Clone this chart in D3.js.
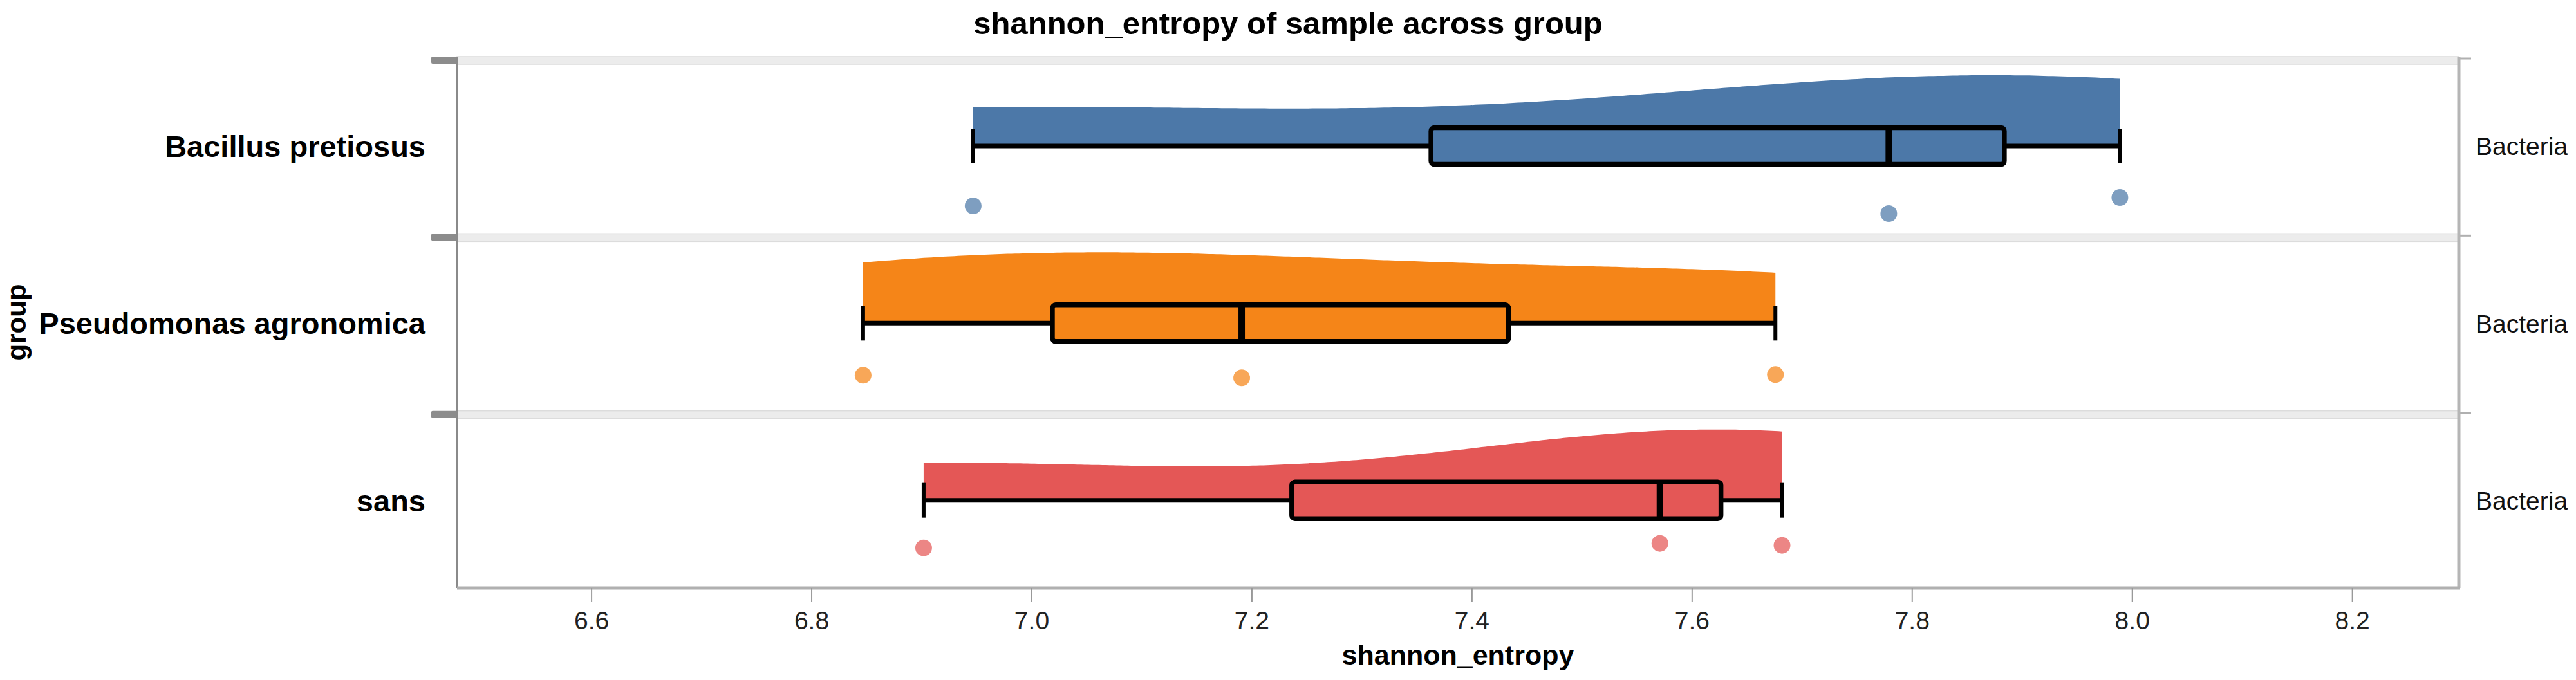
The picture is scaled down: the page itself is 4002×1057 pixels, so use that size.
<!DOCTYPE html>
<html>
<head>
<meta charset="utf-8">
<script src="https://cdn.jsdelivr.net/npm/d3@7"></script>
<style>
  html, body { margin: 0; padding: 0; background: #fff; }
  svg { display: block; font-family: "Liberation Sans", Arial, sans-serif; }
</style>
</head>
<body>
<svg width="4002" height="1057"></svg>
<script>
// values
const groups = ['Bacillus pretiosus', 'Pseudomonas agronomica', 'sans']
const kingdoms = ['Bacteria', 'Bacteria', 'Bacteria']
const samples = [
  [6.947, 7.779, 7.989],
  [6.847, 7.191, 7.676],
  [6.902, 7.571, 7.682]
]
// vertical jitter of the sample dots, in [-1, 1]
const jitter = [
  [0.4, 1.0, -0.25],
  [-0.2, 0.0, -0.25],
  [-0.55, -0.9, -0.75]
]
const colors = ['#4c78a8', '#f58518', '#e45756']
const ticks = [6.6, 6.8, 7.0, 7.2, 7.4, 7.6, 7.8, 8.0, 8.2]

const svg = d3.select('svg')
const plotL = 710, plotR = 3820, plotT = 88, plotB = 914

const x = d3.scaleLinear().domain([6.478, 8.297]).range([plotL, plotR])
const y = d3.scaleBand().domain(groups).range([plotT, plotB])
const jy = d3.scaleLinear().domain([-1, 1]).range([-20, 20])
const violinH = d3.scaleLinear().domain([0, 1]).range([0, 110])

const centerOff = 139
const boxH = 57

// Scott-style bandwidth, as vega's density transform does
function bandwidth (v) {
  const iqr = d3.quantile(v, 0.75) - d3.quantile(v, 0.25)
  return 1.06 * Math.min(d3.deviation(v), iqr / 1.34) * Math.pow(v.length, -0.2)
}
function kde (v, h, xs) {
  return xs.map(t => [t, d3.mean(v, d => Math.exp(-0.5 * ((t - d) / h) ** 2))])
}

// row headers
groups.forEach((g, i) => {
  svg.append('rect')
    .attr('x', plotL).attr('y', y(g))
    .attr('width', plotR - plotL).attr('height', 12)
    .attr('fill', '#ececec').attr('stroke', '#dcdcdc').attr('stroke-width', 1.5)
  svg.append('rect')
    .attr('x', 670).attr('y', y(g))
    .attr('width', plotL - 670).attr('height', 11)
    .attr('rx', 2)
    .attr('fill', '#8c8c8c')
  svg.append('line')
    .attr('x1', plotR).attr('x2', plotR + 19)
    .attr('y1', y(g) + 3).attr('y2', y(g) + 3)
    .attr('stroke', '#b0b0b0').attr('stroke-width', 3)
})

// frame lines
svg.append('line')
  .attr('x1', plotL).attr('x2', plotL).attr('y1', plotT).attr('y2', plotB)
  .attr('stroke', '#8a8a8a').attr('stroke-width', 4)
svg.append('line')
  .attr('x1', plotR).attr('x2', plotR).attr('y1', plotT).attr('y2', plotB)
  .attr('stroke', '#b5b5b5').attr('stroke-width', 5)
svg.append('line')
  .attr('x1', plotL).attr('x2', plotR + 2).attr('y1', plotB).attr('y2', plotB)
  .attr('stroke', '#b0b0b0').attr('stroke-width', 5)

// raincloud per group
groups.forEach((g, i) => {
  const v = samples[i].slice().sort(d3.ascending)
  const cy = y(g) + centerOff
  const col = colors[i]
  const [lo, hi] = d3.extent(v)
  const q1 = d3.quantile(v, 0.25)
  const med = d3.quantile(v, 0.5)
  const q3 = d3.quantile(v, 0.75)

  const h = bandwidth(v)
  const xs = d3.range(0, 121).map(k => lo + (hi - lo) * k / 120)
  const dens = kde(v, h, xs)
  const dmax = d3.max(dens, d => d[1])

  const area = d3.area()
    .x(d => x(d[0]))
    .y0(cy)
    .y1(d => cy - violinH(d[1] / dmax))
    .curve(d3.curveMonotoneX)

  svg.append('path')
    .datum(dens)
    .attr('d', area)
    .attr('fill', col)

  // whiskers
  svg.append('line')
    .attr('x1', x(lo)).attr('x2', x(q1)).attr('y1', cy).attr('y2', cy)
    .attr('stroke', '#000').attr('stroke-width', 7)
  svg.append('line')
    .attr('x1', x(q3)).attr('x2', x(hi)).attr('y1', cy).attr('y2', cy)
    .attr('stroke', '#000').attr('stroke-width', 7)
  svg.selectAll(null)
    .data([lo, hi])
    .enter().append('line')
    .attr('x1', d => x(d)).attr('x2', d => x(d))
    .attr('y1', cy - 27).attr('y2', cy + 27)
    .attr('stroke', '#000').attr('stroke-width', 6)

  // box
  svg.append('rect')
    .attr('x', x(q1)).attr('y', cy - boxH / 2)
    .attr('width', x(q3) - x(q1)).attr('height', boxH)
    .attr('rx', 5)
    .attr('fill', col).attr('stroke', '#000').attr('stroke-width', 7.5)
  svg.append('line')
    .attr('x1', x(med)).attr('x2', x(med))
    .attr('y1', cy - boxH / 2).attr('y2', cy + boxH / 2)
    .attr('stroke', '#000').attr('stroke-width', 10)

  // sample dots
  svg.selectAll(null)
    .data(samples[i])
    .enter().append('circle')
    .attr('cx', d => x(d))
    .attr('cy', (d, k) => y(g) + 224 + jy(jitter[i][k]))
    .attr('r', 13)
    .attr('fill', col)
    .attr('fill-opacity', 0.72)
})

// x axis
const xAxis = svg.append('g')
  .attr('transform', `translate(0,${plotB})`)
  .call(d3.axisBottom(x).tickValues(ticks).tickFormat(d3.format('.1f')).tickSize(21).tickPadding(15))
xAxis.select('.domain').remove()
xAxis.selectAll('.tick line').attr('stroke', '#999').attr('stroke-width', 2)
xAxis.selectAll('.tick text')
  .attr('fill', '#222')
  .style('font-size', '39px')
  .style('font-family', '"Liberation Sans", Arial, sans-serif')

// group labels on the left
const yAxis = svg.append('g')
  .attr('transform', `translate(${plotL},${centerOff - y.bandwidth() / 2 + 2})`)
  .call(d3.axisLeft(y).tickSize(0).tickPadding(49))
yAxis.select('.domain').remove()
yAxis.selectAll('.tick text')
  .attr('fill', '#000')
  .style('font-size', '47px')
  .style('font-weight', 'bold')
  .style('font-family', '"Liberation Sans", Arial, sans-serif')

// facet labels on the right
const rAxis = svg.append('g')
  .attr('transform', `translate(${plotR},${centerOff - y.bandwidth() / 2 + 2})`)
  .call(d3.axisRight(y).tickSize(0).tickPadding(26).tickFormat((d, i) => kingdoms[i]))
rAxis.select('.domain').remove()
rAxis.selectAll('.tick text')
  .attr('fill', '#111')
  .style('font-size', '39px')
  .style('font-family', '"Liberation Sans", Arial, sans-serif')

// titles
svg.append('text')
  .attr('x', 2001).attr('y', 53)
  .attr('text-anchor', 'middle')
  .style('font-size', '49px').style('font-weight', 'bold')
  .text('shannon_entropy of sample across group')

svg.append('text')
  .attr('x', (plotL + plotR) / 2).attr('y', 1033)
  .attr('text-anchor', 'middle')
  .style('font-size', '43px').style('font-weight', 'bold')
  .text('shannon_entropy')

svg.append('text')
  .attr('transform', `translate(40,${(plotT + plotB) / 2}) rotate(-90)`)
  .attr('text-anchor', 'middle')
  .style('font-size', '42px').style('font-weight', 'bold')
  .text('group')
</script>
</body>
</html>
